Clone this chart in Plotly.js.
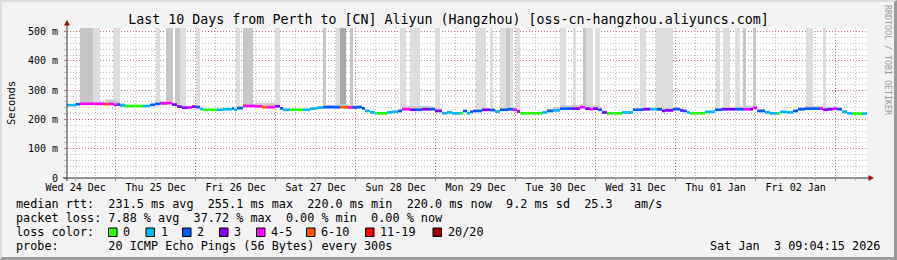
<!DOCTYPE html>
<html><head><meta charset="utf-8">
<script src="https://cdn.plot.ly/plotly-3.0.1.min.js"></script>
<style>
html,body{margin:0;padding:0;background:#f3f3f3;}
#wrap{position:relative;width:897px;height:260px;overflow:hidden;}
#chart{position:absolute;left:0;top:0;width:897px;height:260px;}
#frame{position:absolute;left:0;top:0;width:897px;height:260px;box-sizing:border-box;border-style:solid;border-width:2px 3px 3px 2px;border-color:#dcdcdc #9a9a9a #9a9a9a #dcdcdc;pointer-events:none;}
</style></head><body>
<div id="wrap"><div id="chart"></div><div id="frame"></div></div>
<script>
// ---------------- DATA ----------------
// median rtt segments: start hour (hours since 2025-12-24 00:00), median ms, lost pings, top of smoke ms
const segStart = [9.4,12.1,13.3,20.8,22.0,23.5,24.4,25.3,26.8,32.2,34.3,35.8,37.3,39.4,40.9,42.4,43.9,45.4,46.9,48.1,
  49.3,50.2,54.4,56.2,58.9,59.5,60.4,62.2,65.8,67.9,69.4,71.8,73.3,74.2,76.3,80.2,82.3,84.4,86.2,91.3,
  93.7,94.9,96.4,97.9,98.8,100.3,101.8,105.4,106.9,108.7,109.9,112.3,113.8,115.9,118.3,119.8,121.9,123.4,124.9,127.3,
  128.2,129.4,130.3,131.2,133.9,136.3,137.8,139.3,141.7,143.2,144.4,145.3,151.9,153.4,155.2,157.3,160.9,163.3,164.8,166.3,
  167.2,168.7,169.9,171.4,175.9,179.2,182.2,184.3,186.4,187.9,188.8,191.2,193.3,194.2,195.4,196.3,200.8,203.8,205.9,209.8,
  212.2,214.3,215.2,216.4,218.8,220.3,222.4,223.3,225.4,227.2,228.7,230.8,235.3,236.2,237.7,239.2,240.4,241.9,243.4,244.9,
  247.9];
const segMedian = [249,252,253.5,252,253,250,251,248,246,246,250,253,255,256,251,244,240,241,244,242,
  236,233,233,235,238,233,239,246,245,242,242,245,238,233,233,233,237,240,242,242,
  241,241,242,238,229,224,221,224,226,229,235,233,233,235,235,229,221,224,221,221,
  229,221,226,229,233,232,227,233,235,233,227,221,224,229,231,237,237,242,237,235,
  237,233,224,221,224,233,235,235,235,229,231,235,231,229,224,221,226,233,235,235,
  235,235,240,229,224,221,221,226,224,229,235,237,237,233,235,237,235,226,221,220,
  220];
const segLoss = [1,2,4,7,4,4,2,1,0,1,2,2,4,4,3,3,3,4,3,2,
  1,0,1,1,2,1,2,4,4,7,4,3,2,1,0,1,1,1,2,7,
  4,2,2,2,1,1,0,1,1,2,4,3,2,3,2,3,1,1,1,0,
  2,1,2,2,3,2,1,2,2,4,3,0,1,2,1,2,3,4,3,4,
  3,2,3,0,1,2,3,1,2,3,3,2,3,2,1,0,1,2,3,2,
  4,3,4,2,1,1,0,1,1,2,2,2,4,3,3,4,2,1,1,0,
  1];
const segSmokeHi = [252,255,258,268,268,265,262,256,249,249,253,257,262,264,256,249,245,246,248,246,
  240,236,236,238,241,237,243,252,257,257,257,252,242,236,236,237,241,244,250,252,
  250,249,248,242,233,228,224,228,231,236,245,246,246,246,244,238,226,228,225,224,
  233,226,231,234,240,238,233,240,242,240,233,224,228,236,242,248,250,252,250,248,
  248,244,230,224,228,238,242,240,242,238,240,242,238,234,228,224,230,238,242,244,
  246,246,248,236,229,225,224,230,228,235,242,246,246,244,244,245,242,232,225,223,
  223];
const endHour = 249.4;

// spikes of high pings (smoke reaching above the chart): start hour, end hour, shade level
const colStart = [13.3,17.2,23.2,36.1,39.1,41.8,43.3,48.1,60.1,62.2,71.8,86.2,90.1,91.3,94.3,109.3,112.3,119.8,132.1,136.3,
  139.3,141.1,142.3,144.1,157.3,161.2,164.2,165.1,167.8,181.3,186.1,204.1,206.2,209.8,212.2,215.2,231.1,236.2];
const colEnd   = [17.2,19.3,25.3,37.3,41.2,43.3,45.1,49.3,61.3,65.2,73.3,87.1,91.3,93.1,95.2,111.1,115.3,121.3,135.1,137.2,
  141.1,142.3,143.2,145.3,159.1,162.1,165.1,167.2,169.3,183.1,191.2,205.3,208.3,211.3,213.1,216.1,233.2,237.1];
const colLevel = [2,1,1,1,2,2,1,1,1,2,1,2,1,3,2,1,1,1,1,1,
  1,2,1,1,1,1,2,1,1,1,1,1,1,1,2,2,1,1];

const midnightHours = [24,48,72,96,120,144,168,192,216,240];
const labelHours = [12,36,60,84,108,132,156,180,204,228];
const dayLabels = ["Wed 24 Dec","Thu 25 Dec","Fri 26 Dec","Sat 27 Dec","Sun 28 Dec",
  "Mon 29 Dec","Tue 30 Dec","Wed 31 Dec","Thu 01 Jan","Fri 02 Jan"];
const yTickVals = [0,100,200,300,400,500];
const yTickText = ["0","100 m","200 m","300 m","400 m","500 m"];

const lossLabels = ["0","1","2","3","4-5","6-10","11-19","20/20"];
const lossColors = ["#26ff00","#00b8ff","#0059ff","#7e00ff","#ff00ff","#ff5500","#ff0000","#a00000"];
const lossUpper  = [0,1,2,3,5,10,19,20];

const titleText = "Last 10 Days from Perth to [CN] Aliyun (Hangzhou) [oss-cn-hangzhou.aliyuncs.com]";
const legendLines = [
  "median rtt:  231.5 ms avg  255.1 ms max  220.0 ms min  220.0 ms now  9.2 ms sd  25.3   am/s",
  "packet loss: 7.88 % avg  37.72 % max  0.00 % min  0.00 % now",
  "loss color:",
  "probe:       20 ICMP Echo Pings (56 Bytes) every 300s"
];
const stampText = "Sat Jan  3 09:04:15 2026";
const sideText = "RRDTOOL / TOBI OETIKER";

// ---------------- BUILD ----------------
const MONO = "DejaVu Sans Mono";
const L = 67, R = 867, T = 28, B = 178, W = 897, H = 260;
const px = x => (x - L) / (R - L);
const py = y => (B - y) / (B - T);
const nb = s => s.replace(/ /g, "\u00a0");

const segEnd = segStart.map((s, i) => i < segStart.length - 1 ? segStart[i + 1] : endHour);
const segMid = segStart.map((s, i) => (s + segEnd[i]) / 2);
const segW = segStart.map((s, i) => segEnd[i] - s);
const lossColor = n => lossColors[lossUpper.findIndex(u => n <= u)];
function medianAt(h) {
  for (let i = 0; i < segStart.length; i++) if (h >= segStart[i] && h < segEnd[i]) return segMedian[i];
  return segMedian[segMedian.length - 1];
}

const traces = [];
const shades = {1: "#dddddd", 2: "#c6c6c6", 3: "#a8a8a8"};
[1, 2, 3].forEach(lv => {
  const idx = colLevel.map((l, i) => l === lv ? i : -1).filter(i => i >= 0);
  const mids = idx.map(i => (colStart[i] + colEnd[i]) / 2);
  const bases = mids.map(m => medianAt(m));
  traces.push({type: "bar", x: mids, width: idx.map(i => colEnd[i] - colStart[i]),
    base: bases, y: bases.map(b => 700 - b), marker: {color: shades[lv], line: {width: 0}},
    hoverinfo: "skip", showlegend: false});
});
// smoke around median
traces.push({type: "bar", x: segMid, width: segW, base: segMedian.map(m => m - 4),
  y: segSmokeHi.map((h, i) => h - (segMedian[i] - 4)),
  marker: {color: "#c9c9c9", line: {width: 0}}, hoverinfo: "skip", showlegend: false});
// median line coloured by loss
traces.push({type: "bar", x: segMid, width: segW, base: segMedian.map(m => m - 4.5),
  y: segMedian.map(() => 9), marker: {color: segLoss.map(lossColor), line: {width: 0}},
  hoverinfo: "skip", showlegend: false});
// dummy for label axis
traces.push({type: "scatter", x: labelHours, y: labelHours.map(() => null), xaxis: "x2",
  mode: "markers", hoverinfo: "skip", showlegend: false});

const LEG = 11.8;
const annotations = [];
const ann = (x, y, text, opt) => Object.assign({xref: "paper", yref: "paper", x: px(x), y: py(y), text: nb(text),
  showarrow: false, xanchor: "left", yanchor: "middle", borderpad: 0, borderwidth: 0,
  font: {family: MONO, size: LEG, color: "#000"}}, opt || {});
const lineY = [204, 218, 232, 246];
legendLines.forEach((t, i) => annotations.push(ann(16, lineY[i], t)));
annotations.push(ann(880, 246, stampText, {xanchor: "right"}));
annotations.push(ann(11, 103, "Seconds", {xanchor: "center", textangle: -90, font: {family: MONO, size: 10.5, color: "#000"}}));
annotations.push(ann(888, 60, sideText, {xanchor: "center", textangle: 90, font: {family: MONO, size: 8.3, color: "#999999"}}));

const shapes = [];
const swLeft = [108.5, 146, 182.5, 219.5, 256.5, 306.5, 365.5, 433];
const lblLeft = [123, 160.5, 196.5, 234, 270.5, 321, 380, 447.5];
lossLabels.forEach((lab, i) => {
  shapes.push({type: "rect", xref: "paper", yref: "paper", x0: px(swLeft[i]), x1: px(swLeft[i] + 8.5),
    y0: py(236.5), y1: py(228), fillcolor: lossColors[i], line: {color: "#000", width: 1}});
  annotations.push(ann(lblLeft[i], 232, lab));
});
// axes with arrows
shapes.push({type: "line", xref: "paper", yref: "paper", x0: px(67), x1: px(67), y0: py(181), y1: py(24), line: {color: "#333", width: 1}});
shapes.push({type: "line", xref: "paper", yref: "paper", x0: px(63), x1: px(870), y0: py(178), y1: py(178), line: {color: "#333", width: 1}});
shapes.push({type: "path", xref: "paper", yref: "paper",
  path: `M${px(64)},${py(25.5)} L${px(70)},${py(25.5)} L${px(67)},${py(20)} Z`, fillcolor: "#a01010", line: {width: 0}});
shapes.push({type: "path", xref: "paper", yref: "paper",
  path: `M${px(868.5)},${py(175)} L${px(868.5)},${py(181)} L${px(874)},${py(178)} Z`, fillcolor: "#a01010", line: {width: 0}});

const MGRID = "rgba(200,60,60,0.55)", GRID = "rgba(140,140,140,0.55)";
const layout = {
  width: W, height: H, margin: {l: L, r: W - R, t: T, b: H - B},
  paper_bgcolor: "rgba(0,0,0,0)", plot_bgcolor: "#ffffff",
  barmode: "overlay", showlegend: false,
  title: {text: titleText, x: 0.5, xref: "container", xanchor: "center", y: 1 - 19 / H, yref: "container", yanchor: "middle",
    font: {family: MONO, size: 13.3, color: "#000"}},
  xaxis: {type: "linear", range: [9.4, 249.4], tickmode: "array", tickvals: midnightHours, showticklabels: false,
    showgrid: true, gridcolor: MGRID, griddash: "1px,2px", gridwidth: 1, zeroline: false, showline: false,
    ticks: "outside", ticklen: 2, tickcolor: MGRID,
    minor: {tickmode: "linear", tick0: 0, dtick: 6, showgrid: true, gridcolor: GRID, griddash: "1px,2px", gridwidth: 1,
      ticks: "outside", ticklen: 2, tickcolor: GRID},
    fixedrange: true},
  xaxis2: {overlaying: "x", anchor: "y", side: "bottom", type: "linear", range: [9.4, 249.4], tickmode: "array",
    tickvals: labelHours, ticktext: dayLabels, showgrid: false, zeroline: false, showline: false, ticks: "",
    tickfont: {family: MONO, size: 10, color: "#000"}, ticklabelstandoff: 2, fixedrange: true},
  yaxis: {range: [0, 512.5], tickmode: "array", tickvals: yTickVals, ticktext: yTickText,
    showgrid: true, gridcolor: MGRID, griddash: "1px,2px", zeroline: false, showline: false,
    ticks: "outside", ticklen: 2, tickcolor: MGRID,
    tickfont: {family: MONO, size: 10, color: "#000"}, ticklabelstandoff: 4,
    minor: {tickmode: "linear", tick0: 0, dtick: 20, showgrid: true, gridcolor: GRID, griddash: "1px,2px",
      ticks: "outside", ticklen: 2, tickcolor: GRID},
    fixedrange: true},
  annotations, shapes
};
Plotly.newPlot("chart", traces, layout, {staticPlot: true, displayModeBar: false});
</script>
</body></html>
